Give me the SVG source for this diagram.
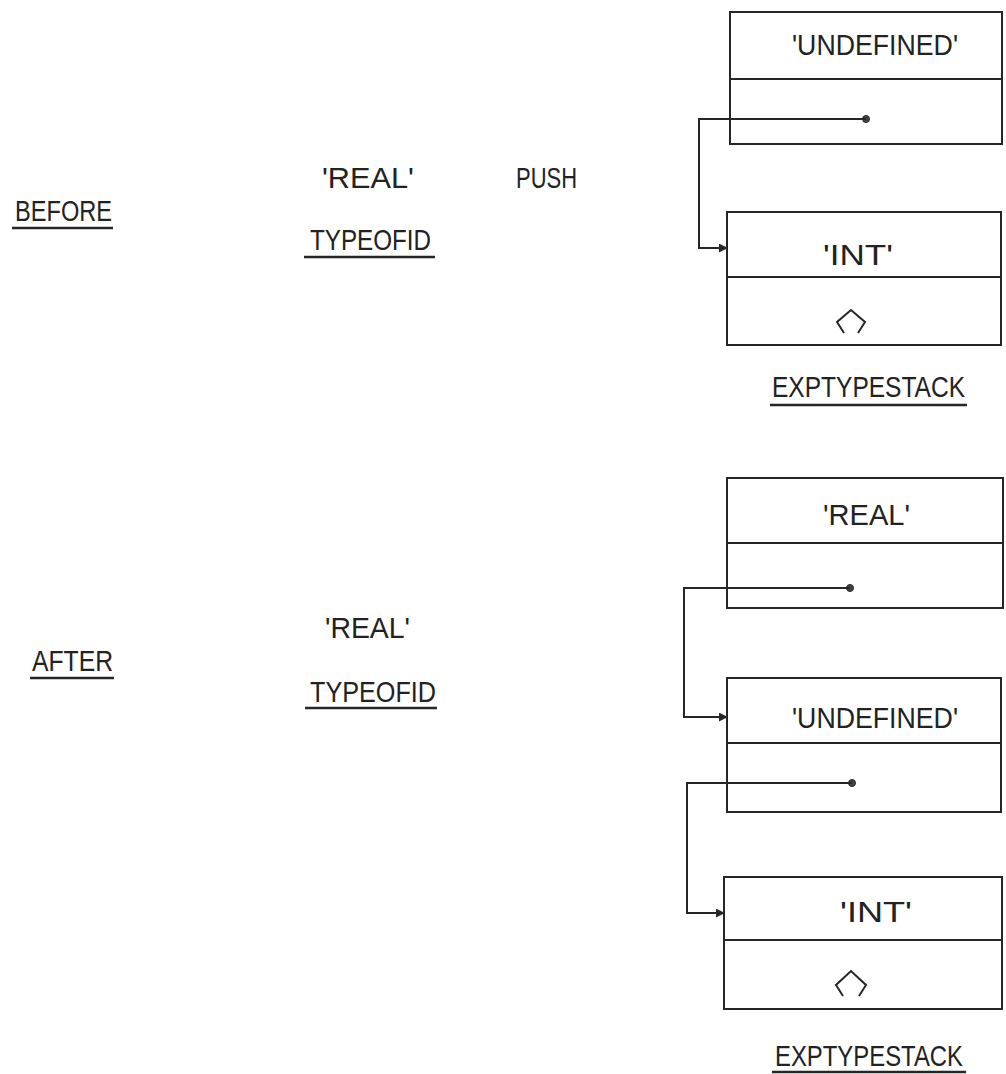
<svg xmlns="http://www.w3.org/2000/svg" width="1006" height="1074" viewBox="0 0 1006 1074">
<style>
  .t{font-family:"Liberation Sans","DejaVu Sans",sans-serif;font-size:29px;fill:#222222}
  .box{fill:none;stroke:#262626;stroke-width:2}
  .ln{fill:none;stroke:#262626;stroke-width:2}
  .ul{fill:none;stroke:#262626;stroke-width:2.5}
  .dot{fill:#444;stroke:#262626;stroke-width:1}
</style>
<defs>
  <marker id="arr" viewBox="0 0 10 10" refX="9" refY="5" markerWidth="9" markerHeight="9" markerUnits="userSpaceOnUse" orient="auto">
    <path d="M0,0 L10,5 L0,10 z" fill="#262626"/>
  </marker>
</defs>
<rect width="1006" height="1074" fill="#ffffff"/>

<g id="before-labels">
  <text class="t" x="15" y="221" textLength="97" lengthAdjust="spacingAndGlyphs">BEFORE</text>
  <line class="ul" x1="12" y1="228" x2="113" y2="228"/>
  <text class="t" x="322" y="188" textLength="92" lengthAdjust="spacingAndGlyphs">'REAL'</text>
  <text class="t" x="516" y="188" textLength="61" lengthAdjust="spacingAndGlyphs">PUSH</text>
  <text class="t" x="310" y="250" textLength="121" lengthAdjust="spacingAndGlyphs">TYPEOFID</text>
  <line class="ul" x1="304" y1="257" x2="435" y2="257"/>
</g>

<g id="before-undefined">
  <rect class="box" x="730" y="12" width="272" height="132"/>
  <line class="box" x1="730" y1="79" x2="1002" y2="79"/>
  <text class="t" x="792" y="55" textLength="166" lengthAdjust="spacingAndGlyphs">'UNDEFINED'</text>
  <circle class="dot" cx="866" cy="119" r="3.5"/>
</g>

<g id="before-int">
  <rect class="box" x="727" y="212" width="274" height="133"/>
  <line class="box" x1="727" y1="277" x2="1001" y2="277"/>
  <text class="t" x="823" y="265" textLength="70" lengthAdjust="spacingAndGlyphs">'INT'</text>
  <path class="ln" d="M844,333 L837,322 L851,310 L865,322 L858,333"/>
</g>

<g id="before-stack-label">
  <text class="t" x="772" y="397" textLength="193" lengthAdjust="spacingAndGlyphs">EXPTYPESTACK</text>
  <line class="ul" x1="770" y1="405" x2="967" y2="405"/>
</g>

<g id="after-labels">
  <text class="t" x="32" y="671" textLength="81" lengthAdjust="spacingAndGlyphs">AFTER</text>
  <line class="ul" x1="30" y1="678" x2="114" y2="678"/>
  <text class="t" x="325" y="638" textLength="85" lengthAdjust="spacingAndGlyphs">'REAL'</text>
  <text class="t" x="310" y="702" textLength="126" lengthAdjust="spacingAndGlyphs">TYPEOFID</text>
  <line class="ul" x1="305" y1="708" x2="437" y2="708"/>
</g>

<g id="after-real">
  <rect class="box" x="727" y="478" width="276" height="130"/>
  <line class="box" x1="727" y1="543" x2="1003" y2="543"/>
  <text class="t" x="823" y="525" textLength="87" lengthAdjust="spacingAndGlyphs">'REAL'</text>
  <circle class="dot" cx="850" cy="588" r="3.5"/>
</g>

<g id="after-undefined">
  <rect class="box" x="727" y="678" width="274" height="134"/>
  <line class="box" x1="727" y1="743" x2="1001" y2="743"/>
  <text class="t" x="792" y="728" textLength="166" lengthAdjust="spacingAndGlyphs">'UNDEFINED'</text>
  <circle class="dot" cx="852" cy="783" r="3.5"/>
</g>

<g id="after-int">
  <rect class="box" x="724" y="877" width="278" height="132"/>
  <line class="box" x1="724" y1="940" x2="1002" y2="940"/>
  <text class="t" x="840" y="922" textLength="72" lengthAdjust="spacingAndGlyphs">'INT'</text>
  <path class="ln" d="M843,996 L836,985 L851,971 L866,985 L859,996"/>
</g>

<g id="after-stack-label">
  <text class="t" x="775" y="1066" textLength="188" lengthAdjust="spacingAndGlyphs">EXPTYPESTACK</text>
  <line class="ul" x1="772" y1="1072" x2="966" y2="1072"/>
</g>

<g id="connectors">
  <path class="ln" d="M866,119 L699,119 L699,248 L727,248" marker-end="url(#arr)"/>
  <path class="ln" d="M850,588 L684,588 L684,717 L727,717" marker-end="url(#arr)"/>
  <path class="ln" d="M852,783 L687,783 L687,913 L724,913" marker-end="url(#arr)"/>
</g>
</svg>
